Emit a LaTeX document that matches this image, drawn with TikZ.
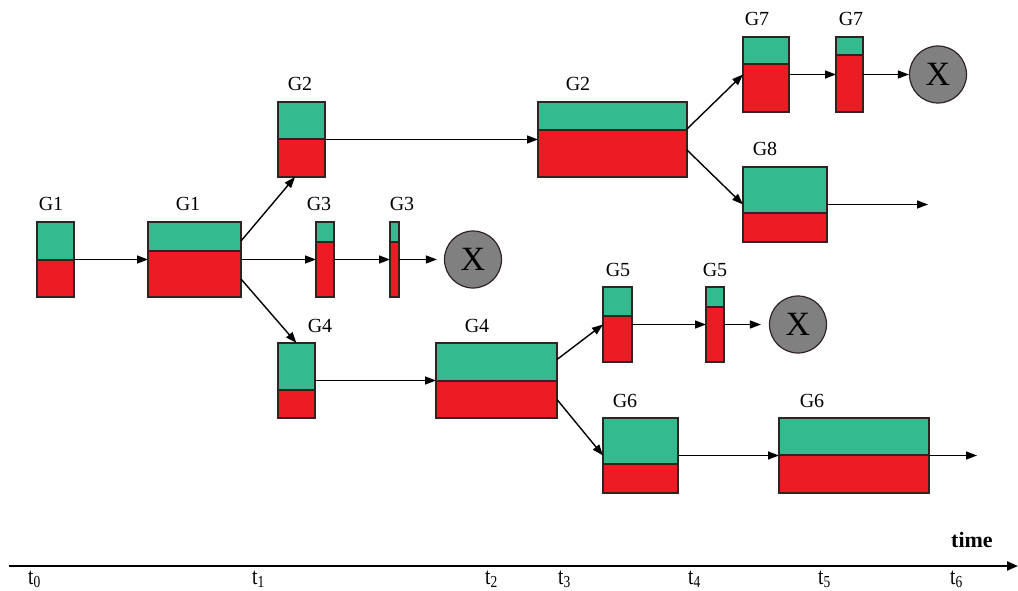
\documentclass[tikz,border=0pt]{standalone}
\usepackage{fontspec}
\setmainfont{Liberation Serif}
\usetikzlibrary{arrows.meta}

\definecolor{cellgreen}{RGB}{51,187,143}
\definecolor{cellred}{RGB}{237,28,36}
\definecolor{edgedark}{RGB}{50,35,35}
\definecolor{deadgray}{RGB}{128,128,128}

% #1 name, #2 left, #3 right, #4 top, #5 green/red split, #6 label, #7 label x
\newcommand\popbox[7]{%
  \fill[cellred] (#2,#4) rectangle (#3,#4+75);
  \fill[cellgreen] (#2,#4) rectangle (#3,#5);
  \draw[divider] (#2,#5) -- (#3,#5);
  \node[popframe, minimum width=#3-#2, anchor=north west] (#1) at (#2,#4) {};
  \node[poplabel] at (#7,#4-11) {#6};
}

\begin{document}
\begin{tikzpicture}[x=1pt, y=-1pt,
  popframe/.style={draw=edgedark, line width=1.1pt, inner sep=0pt, outer sep=0pt,
                   minimum height=75},
  divider/.style={draw=edgedark, line width=1.1pt},
  poplabel/.style={anchor=base, inner sep=0pt, font=\fontsize{20}{24}\selectfont},
  conn/.style={draw=black, line width=1.4pt, -{Triangle[length=11pt,width=8pt]}},
  axis/.style={draw=black, line width=2.2pt, -{Triangle[length=11pt,width=9pt]}},
  dead/.style={circle, fill=deadgray, draw=edgedark, line width=1.2pt, inner sep=0pt,
               minimum size=57, font=\fontsize{34}{34}\selectfont},
  tick/.style={anchor=base west, inner sep=0pt, font=\fontsize{24}{26}\selectfont}]

\useasboundingbox (0,0) rectangle (1018,591);

% populations
\popbox{G1a}{37}{74}{222}{260}{G1}{51}
\popbox{G1b}{148}{241}{222}{251}{G1}{188}
\popbox{G2a}{278}{325}{102}{139}{G2}{300}
\popbox{G3a}{316}{334}{222}{242}{G3}{319}
\popbox{G3b}{390}{399}{222}{242}{G3}{402}
\popbox{G4a}{278}{315}{343}{390}{G4}{320}
\popbox{G2b}{538}{687}{102}{130}{G2}{578}
\popbox{G4b}{436}{557}{343}{381}{G4}{477}
\popbox{G7a}{743}{789}{37}{64}{G7}{757}
\popbox{G7b}{836}{863}{37}{55}{G7}{851}
\popbox{G8}{743}{827}{167}{213}{G8}{765}
\popbox{G5a}{603}{632}{287}{316}{G5}{618}
\popbox{G5b}{706}{724}{287}{307}{G5}{715}
\popbox{G6a}{603}{678}{418}{464}{G6}{625}
\popbox{G6b}{779}{929}{418}{455}{G6}{812}

% extinct branches
\node[dead] (X1) at (473,259.5) {X};
\node[dead] (X2) at (938,74.5) {X};
\node[dead] (X3) at (798,324.5) {X};

\coordinate (G8end) at (928,204.5);
\coordinate (G6end) at (977,455.5);

% transitions
\draw[conn] (G1a.east) -- (G1b.west);
\draw[conn] (G1b.east) -- (G3a.west);
\draw[conn] ([yshift=18.5pt]G1b.east) -- ([xshift=-6.5pt]G2a.south);
\draw[conn] ([yshift=-19.5pt]G1b.east) -- (G4a.north);
\draw[conn] (G3a.east) -- (G3b.west);
\draw[conn, shorten >=7pt] (G3b.east) -- (X1.west);
\draw[conn] (G2a.east) -- (G2b.west);
\draw[conn] ([yshift=10.5pt]G2b.east) -- (G7a.west);
\draw[conn] ([yshift=-10.5pt]G2b.east) -- (G8.west);
\draw[conn] (G7a.east) -- (G7b.west);
\draw[conn] (G7b.east) -- (X2.west);
\draw[conn] (G8.east) -- (G8end);
\draw[conn] (G4a.east) -- (G4b.west);
\draw[conn] ([yshift=21pt]G4b.east) -- (G5a.west);
\draw[conn] ([yshift=-19pt]G4b.east) -- (G6a.west);
\draw[conn] (G5a.east) -- (G5b.west);
\draw[conn, shorten >=8pt] (G5b.east) -- (X3.west);
\draw[conn] (G6a.east) -- (G6b.west);
\draw[conn] (G6b.east) -- (G6end);

% time axis
\coordinate (axstart) at (9,566);
\coordinate (axend) at (1018,566);
\draw[axis] (axstart) -- (axend);
\node[anchor=base west, inner sep=0pt, font=\fontsize{22}{24}\selectfont\bfseries]
  (timelbl) at (951,547) {time};
\node[tick] (t0) at (28,584) {\scalebox{0.8}[1]{t\textsubscript{0}}};
\node[tick] (t1) at (252,584) {\scalebox{0.8}[1]{t\textsubscript{1}}};
\node[tick] (t2) at (485,584) {\scalebox{0.8}[1]{t\textsubscript{2}}};
\node[tick] (t3) at (558,584) {\scalebox{0.8}[1]{t\textsubscript{3}}};
\node[tick] (t4) at (688,584) {\scalebox{0.8}[1]{t\textsubscript{4}}};
\node[tick] (t5) at (818,584) {\scalebox{0.8}[1]{t\textsubscript{5}}};
\node[tick] (t6) at (950,584) {\scalebox{0.8}[1]{t\textsubscript{6}}};
\end{tikzpicture}
\end{document}
